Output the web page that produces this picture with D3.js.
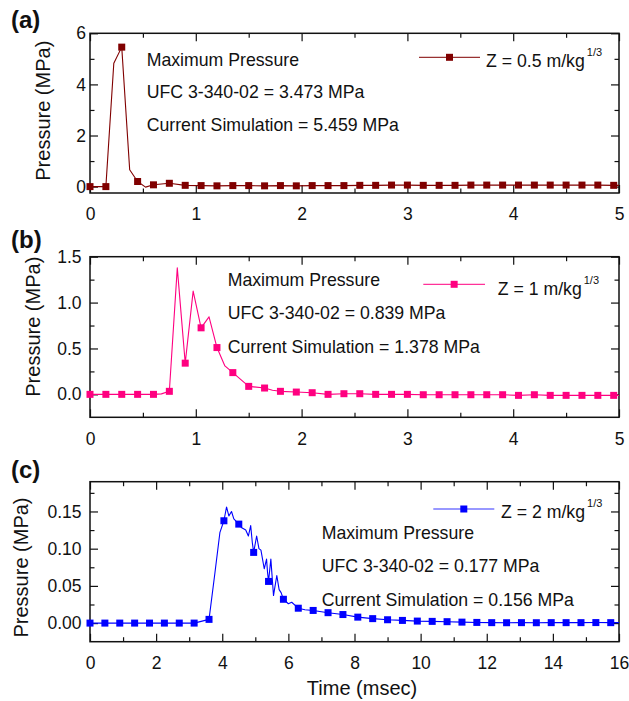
<!DOCTYPE html>
<html>
<head>
<meta charset="utf-8">
<script src="https://cdn.jsdelivr.net/npm/d3@7"></script>
<style>
  body { margin: 0; background: #fff; }
  text { font-family: "Liberation Sans", Arial, sans-serif; }
</style>
</head>
<body>
<div id="chart"></div>
<script>
// ---- data ----
// panels (a) and (b) share the marker times (msec)
var abMarkTime = [0, 0.15, 0.3, 0.45, 0.6, 0.75, 0.9, 1.05, 1.2, 1.35, 1.5, 1.65, 1.8, 1.95, 2.1, 2.25, 2.4,
    2.55, 2.7, 2.85, 3.0, 3.15, 3.3, 3.45, 3.6, 3.75, 3.9, 4.05, 4.2, 4.35, 4.5, 4.65, 4.8, 4.95];

// (a) Z = 0.5
var aMarkP = [0, 0, 5.459, 0.2, 0.07, 0.13, 0.05, 0.04, 0.03, 0.04, 0.04, 0.03, 0.04, 0.03, 0.04, 0.04, 0.04,
    0.05, 0.05, 0.06, 0.06, 0.05, 0.05, 0.05, 0.06, 0.06, 0.06, 0.06, 0.06, 0.06, 0.06, 0.06, 0.06, 0.05];
var aExtraTime = [0.225, 0.375, 0.525, 5.0];
var aExtraP = [4.83, 0.66, -0.02, 0.05];

// (b) Z = 1
var bMarkP = [0, 0, 0, 0, 0, 0.033, 0.34, 0.725, 0.51, 0.237, 0.087, 0.069, 0.033, 0.025, 0.018, 0.0, 0.007,
    0.007, 0.0, 0.0, 0.0, -0.004, -0.004, -0.004, -0.004, -0.004, -0.004, -0.011, -0.004, -0.011, -0.011, -0.011, -0.011, -0.011];
var bExtraTime = [0.675, 0.825, 0.975, 1.125, 1.275, 1.725, 5.0];
var bExtraP = [0.005, 1.378, 1.125, 0.845, 0.31, 0.045, -0.011];

// (c) Z = 2
var cMarkTime = [0, 0.45, 0.9, 1.35, 1.8, 2.25, 2.7, 3.15, 3.6, 4.05, 4.5, 4.95, 5.4, 5.85, 6.3, 6.75, 7.2, 7.65,
    8.1, 8.55, 9.0, 9.45, 9.9, 10.35, 10.8, 11.25, 11.7, 12.15, 12.6, 13.05, 13.5, 13.95, 14.4, 14.85, 15.3, 15.75];
var cMarkP = [0, 0, 0, 0, 0, 0, 0, 0, 0.005, 0.1375, 0.133, 0.095, 0.056, 0.032, 0.020, 0.017, 0.014, 0.0115,
    0.008, 0.006, 0.0045, 0.0036, 0.0027, 0.0023, 0.0019, 0.0013, 0.0009, 0.0006, 0.0005, 0.0006, 0.0005, 0.0006, 0.0006, 0.0006, 0.0007, 0.0006];
var cExtraTime = [3.78, 3.93, 4.13, 4.2, 4.28, 4.35, 4.59, 4.71, 4.79, 4.86, 4.91, 5.04, 5.11, 5.17, 5.27, 5.34,
    5.37, 5.47, 5.55, 5.65, 5.72, 5.78, 6.0, 6.1, 6.5, 16];
var cExtraP = [0.068, 0.122, 0.156, 0.144, 0.150, 0.140, 0.128, 0.125, 0.117, 0.131, 0.108, 0.117, 0.100, 0.098, 0.073, 0.086,
    0.068, 0.086, 0.037, 0.064, 0.045, 0.041, 0.026, 0.028, 0.018, 0.0006];

// ticks
var abXTicks = [0, 1, 2, 3, 4, 5];
var abXMinor = [0.5, 1.5, 2.5, 3.5, 4.5];
var aYTicks = [0, 2, 4, 6];
var aYMinor = [1, 3, 5];
var bYTicks = [0, 0.5, 1.0, 1.5];
var bYMinor = [0.25, 0.75, 1.25];
var cXTicks = [0, 2, 4, 6, 8, 10, 12, 14, 16];
var cXMinor = [1, 3, 5, 7, 9, 11, 13, 15];
var cYTicks = [0, 0.05, 0.10, 0.15];
var cYMinor = [0.025, 0.075, 0.125, 0.175];

// ---- layout ----
var svgWidth = 629, svgHeight = 701;
var left = 90, right = 619;

var svg = d3.select("#chart").append("svg")
    .attr("width", svgWidth)
    .attr("height", svgHeight);

function buildLine(mt, mp, et, ep) {
    var pts = mt.map(function (t, i) { return [t, mp[i]]; })
        .concat(et.map(function (t, i) { return [t, ep[i]]; }));
    pts.sort(function (a, b) { return a[0] - b[0]; });
    return pts;
}

function styleAxis(g) {
    g.select(".domain").remove();
    g.attr("font-size", 17.5).attr("font-family", "Liberation Sans, Arial, sans-serif");
    g.selectAll(".tick line").attr("stroke", "#111").attr("stroke-width", 1.2);
    g.selectAll(".tick text").attr("fill", "#111");
}

function drawPanel(p) {
    var x = d3.scaleLinear().domain(p.xDomain).range([left, right]);
    var y = d3.scaleLinear().domain(p.yDomain).range([p.bottom, p.top]);
    var g = svg.append("g");

    // major + minor ticks, pointing inward on all four sides
    g.append("g").attr("transform", `translate(0,${p.bottom})`)
        .call(d3.axisBottom(x).tickValues(p.xTicks).tickSize(-8).tickPadding(15).tickFormat(d3.format("d")))
        .call(styleAxis);
    g.append("g").attr("transform", `translate(0,${p.bottom})`)
        .call(d3.axisBottom(x).tickValues(p.xMinor).tickSize(-4.5).tickFormat(""))
        .call(styleAxis);
    g.append("g").attr("transform", `translate(0,${p.top})`)
        .call(d3.axisTop(x).tickValues(p.xTicks).tickSize(-8).tickFormat(""))
        .call(styleAxis);
    g.append("g").attr("transform", `translate(0,${p.top})`)
        .call(d3.axisTop(x).tickValues(p.xMinor).tickSize(-4.5).tickFormat(""))
        .call(styleAxis);
    g.append("g").attr("transform", `translate(${left},0)`)
        .call(d3.axisLeft(y).tickValues(p.yTicks).tickSize(-8).tickPadding(p.yPad).tickFormat(d3.format(p.yFmt)))
        .call(styleAxis);
    g.append("g").attr("transform", `translate(${left},0)`)
        .call(d3.axisLeft(y).tickValues(p.yMinor).tickSize(-4.5).tickFormat(""))
        .call(styleAxis);
    g.append("g").attr("transform", `translate(${right},0)`)
        .call(d3.axisRight(y).tickValues(p.yTicks).tickSize(-8).tickFormat(""))
        .call(styleAxis);
    g.append("g").attr("transform", `translate(${right},0)`)
        .call(d3.axisRight(y).tickValues(p.yMinor).tickSize(-4.5).tickFormat(""))
        .call(styleAxis);

    // frame
    g.append("rect")
        .attr("x", left).attr("y", p.top)
        .attr("width", right - left).attr("height", p.bottom - p.top)
        .attr("fill", "none").attr("stroke", "#111").attr("stroke-width", 1.5);

    // series
    var line = d3.line().x(d => x(d[0])).y(d => y(d[1]));
    g.append("path")
        .datum(p.line)
        .attr("d", line)
        .attr("fill", "none")
        .attr("stroke", p.color)
        .attr("stroke-width", 1.1)
        .attr("stroke-linejoin", "round");

    g.selectAll(".mk")
        .data(p.marks)
        .enter()
        .append("rect")
        .attr("x", d => x(d[0]) - 3.5)
        .attr("y", d => y(d[1]) - 3.5)
        .attr("width", 7).attr("height", 7)
        .attr("fill", p.color);

    // annotation
    g.selectAll(".note")
        .data(p.notes)
        .enter()
        .append("text")
        .attr("x", p.noteX)
        .attr("y", (d, i) => p.noteY[i])
        .attr("font-size", 17.7)
        .attr("fill", "#111")
        .text(d => d);

    // legend
    g.append("line")
        .attr("x1", p.legX[0]).attr("x2", p.legX[1])
        .attr("y1", p.legY).attr("y2", p.legY)
        .attr("stroke", p.color).attr("stroke-width", 1.2).attr("opacity", 0.8);
    g.append("rect")
        .attr("x", (p.legX[0] + p.legX[1]) / 2 - 3.5).attr("y", p.legY - 3.5)
        .attr("width", 7).attr("height", 7)
        .attr("fill", p.color);
    var lt = g.append("text")
        .attr("x", p.legTextX).attr("y", p.legTextY)
        .attr("font-size", 17.7).attr("fill", "#111");
    lt.append("tspan").text(p.legend);
    lt.append("tspan").attr("dx", 2).attr("dy", -11).attr("font-size", 11).text("1/3");

    // panel label
    g.append("text")
        .attr("x", 11).attr("y", p.labelY)
        .attr("font-size", 24).attr("font-weight", "bold").attr("fill", "#111")
        .text(p.label);

    // y title
    g.append("text")
        .attr("transform", `translate(${p.yTitleX},${p.yTitleY}) rotate(-90)`)
        .attr("text-anchor", "middle")
        .attr("font-size", 20).attr("fill", "#111")
        .text("Pressure (MPa)");

    return g;
}

drawPanel({
    label: "(a)", labelY: 28.3,
    top: 33.3, bottom: 193,
    xDomain: [0, 5], yDomain: [-0.25, 6],
    xTicks: abXTicks, xMinor: abXMinor, yTicks: aYTicks, yMinor: aYMinor,
    yFmt: "d", yPad: 4,
    color: "#800000",
    line: buildLine(abMarkTime, aMarkP, aExtraTime, aExtraP),
    marks: abMarkTime.map((t, i) => [t, aMarkP[i]]),
    notes: ["Maximum Pressure", "UFC 3-340-02 = 3.473 MPa", "Current Simulation = 5.459 MPa"],
    noteX: 146.7, noteY: [66.3, 98, 131.3],
    legX: [419, 480], legY: 57.3, legTextX: 486, legTextY: 67, legend: "Z = 0.5 m/kg",
    yTitleX: 50, yTitleY: 110.7
});

drawPanel({
    label: "(b)", labelY: 248.3,
    top: 256.7, bottom: 417.3,
    xDomain: [0, 5], yDomain: [-0.25, 1.5],
    xTicks: abXTicks, xMinor: abXMinor, yTicks: bYTicks, yMinor: bYMinor,
    yFmt: ".1f", yPad: 8.5,
    color: "#ff0080",
    line: buildLine(abMarkTime, bMarkP, bExtraTime, bExtraP),
    marks: abMarkTime.map((t, i) => [t, bMarkP[i]]),
    notes: ["Maximum Pressure", "UFC 3-340-02 = 0.839 MPa", "Current Simulation = 1.378 MPa"],
    noteX: 227.7, noteY: [286.3, 319, 353],
    legX: [423.3, 485], legY: 284.3, legTextX: 497.7, legTextY: 295, legend: "Z = 1 m/kg",
    yTitleX: 40, yTitleY: 326.7
});

drawPanel({
    label: "(c)", labelY: 478.3,
    top: 481.7, bottom: 641.7,
    xDomain: [0, 16], yDomain: [-0.025, 0.19],
    xTicks: cXTicks, xMinor: cXMinor, yTicks: cYTicks, yMinor: cYMinor,
    yFmt: ".2f", yPad: 8.5,
    color: "#0000ff",
    line: buildLine(cMarkTime, cMarkP, cExtraTime, cExtraP),
    marks: cMarkTime.map((t, i) => [t, cMarkP[i]]),
    notes: ["Maximum Pressure", "UFC 3-340-02 = 0.177 MPa", "Current Simulation = 0.156 MPa"],
    noteX: 321.7, noteY: [539, 572.3, 605.6],
    legX: [433.3, 494.3], legY: 509, legTextX: 501, legTextY: 518.3, legend: "Z = 2 m/kg",
    yTitleX: 28.3, yTitleY: 567.5
});

// x title (bottom panel only)
svg.append("text")
    .attr("x", 362).attr("y", 695)
    .attr("text-anchor", "middle")
    .attr("font-size", 20).attr("fill", "#111")
    .text("Time (msec)");
</script>
</body>
</html>
